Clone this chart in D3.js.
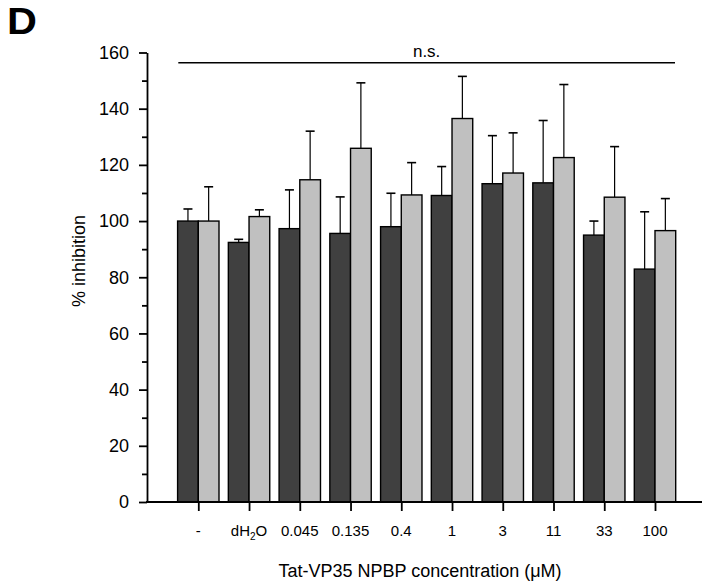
<!DOCTYPE html>
<html>
<head>
<meta charset="utf-8">
<script src="https://cdn.jsdelivr.net/npm/d3@7"></script>
<style>
  body { margin: 0; background: #fff; }
  text { font-family: "Liberation Sans", Arial, sans-serif; fill: #000; }
</style>
</head>
<body>
<div id="chart"></div>
<script>
// categories and values
var categories = ["-", "dH2O", "0.045", "0.135", "0.4", "1", "3", "11", "33", "100"];
var darkMeans  = [100.0, 92.4, 97.3, 95.6, 98.0, 109.1, 113.3, 113.6, 95.0, 82.9];
var darkErrTop = [104.3, 93.5, 111.1, 108.6, 109.9, 119.4, 130.4, 135.8, 100.0, 103.3];
var lightMeans = [100.0, 101.6, 114.7, 125.9, 109.3, 136.5, 117.1, 122.6, 108.5, 96.6];
var lightErrTop = [112.2, 104.0, 132.0, 149.2, 120.8, 151.5, 131.4, 148.6, 126.5, 108.0];
var yTicks = [0, 20, 40, 60, 80, 100, 120, 140, 160];
var yMinorTicks = [10, 30, 50, 70, 90, 110, 130, 150];

var W = 703, H = 585;

var svg = d3.select("#chart").append("svg")
    .attr("width", W)
    .attr("height", H);

// scales
var yScale = d3.scaleLinear().domain([0, 160]).range([502, 52.5]);
var xScale = d3.scalePoint().domain(categories).range([198.3, 655]);
var subScale = d3.scaleBand().domain(["dark", "light"]).range([-20.7, 20.7]);

var series = [
  {key: "dark", fill: "#404040", means: darkMeans, err: darkErrTop},
  {key: "light", fill: "#c0c0c0", means: lightMeans, err: lightErrTop}
];

// error bars (drawn first, bars cover their bottom)
series.forEach(function(s) {
  var g = svg.append("g").attr("class", "err-" + s.key);
  categories.forEach(function(c, i) {
    var cx = xScale(c) + subScale(s.key) + subScale.bandwidth() / 2;
    g.append("line")
        .attr("x1", cx).attr("x2", cx)
        .attr("y1", yScale(s.means[i])).attr("y2", yScale(s.err[i]))
        .attr("stroke", "#000").attr("stroke-width", 1.2);
    g.append("line")
        .attr("x1", cx - 4.5).attr("x2", cx + 4.5)
        .attr("y1", yScale(s.err[i])).attr("y2", yScale(s.err[i]))
        .attr("stroke", "#000").attr("stroke-width", 1.6);
  });
});

// bars
series.forEach(function(s) {
  svg.append("g").selectAll("rect")
      .data(s.means)
      .join("rect")
      .attr("x", function(d, i) { return xScale(categories[i]) + subScale(s.key); })
      .attr("y", function(d) { return yScale(d); })
      .attr("width", subScale.bandwidth())
      .attr("height", function(d) { return yScale(0) - yScale(d); })
      .attr("fill", s.fill)
      .attr("stroke", "#000")
      .attr("stroke-width", 1.4);
});

// y axis
var yAxis = svg.append("g")
    .attr("transform", "translate(147,0)")
    .call(d3.axisLeft(yScale).tickValues(yTicks).tickSize(8).tickSizeOuter(0).tickPadding(10));
yAxis.select(".domain").attr("stroke-width", 1.8);
yAxis.selectAll(".tick line").attr("stroke-width", 1.8);
yAxis.selectAll("text")
    .style("font-size", "18px")
    .style("font-family", "'Liberation Sans', Arial, sans-serif");

var yMinor = svg.append("g")
    .attr("transform", "translate(147,0)")
    .call(d3.axisLeft(yScale).tickValues(yMinorTicks).tickSize(5).tickFormat(""));
yMinor.select(".domain").remove();
yMinor.selectAll(".tick line").attr("stroke-width", 1.8);

// x axis
svg.append("line")
    .attr("x1", 146).attr("x2", 702)
    .attr("y1", yScale(0)).attr("y2", yScale(0))
    .attr("stroke", "#000").attr("stroke-width", 1.8);

var xAxis = svg.append("g")
    .attr("transform", "translate(0," + yScale(0) + ")")
    .call(d3.axisBottom(xScale).tickSize(9).tickFormat(""));
xAxis.select(".domain").remove();
xAxis.selectAll(".tick line").attr("stroke-width", 1.8);

// x tick labels (dH2O gets a subscript)
categories.forEach(function(c) {
  var t = svg.append("text")
      .attr("x", xScale(c))
      .attr("y", 536)
      .attr("text-anchor", "middle")
      .style("font-size", "15px");
  if (c === "dH2O") {
    t.append("tspan").text("dH");
    t.append("tspan").text("2").style("font-size", "10px").attr("dy", 4);
    t.append("tspan").text("O").attr("dy", -4);
  } else {
    t.text(c);
  }
});

// axis titles
svg.append("text")
    .attr("x", 420)
    .attr("y", 577)
    .attr("text-anchor", "middle")
    .style("font-size", "18px")
    .text("Tat-VP35 NPBP concentration (\u03bcM)");

svg.append("text")
    .attr("transform", "translate(85,261) rotate(-90)")
    .attr("text-anchor", "middle")
    .style("font-size", "18px")
    .text("% inhibition");

// n.s. bracket
svg.append("line")
    .attr("x1", xScale(categories[0]) - 20).attr("x2", xScale(categories[categories.length - 1]) + 20)
    .attr("y1", 62.7).attr("y2", 62.7)
    .attr("stroke", "#000").attr("stroke-width", 1.6);
svg.append("text")
    .attr("x", (xScale(categories[0]) + xScale(categories[categories.length - 1])) / 2)
    .attr("y", 57)
    .attr("text-anchor", "middle")
    .style("font-size", "17px")
    .text("n.s.");

// panel letter
svg.append("text")
    .attr("transform", "translate(7,34) scale(1.12,1)")
    .style("font-size", "37px")
    .style("font-weight", "bold")
    .text("D");
</script>
</body>
</html>
